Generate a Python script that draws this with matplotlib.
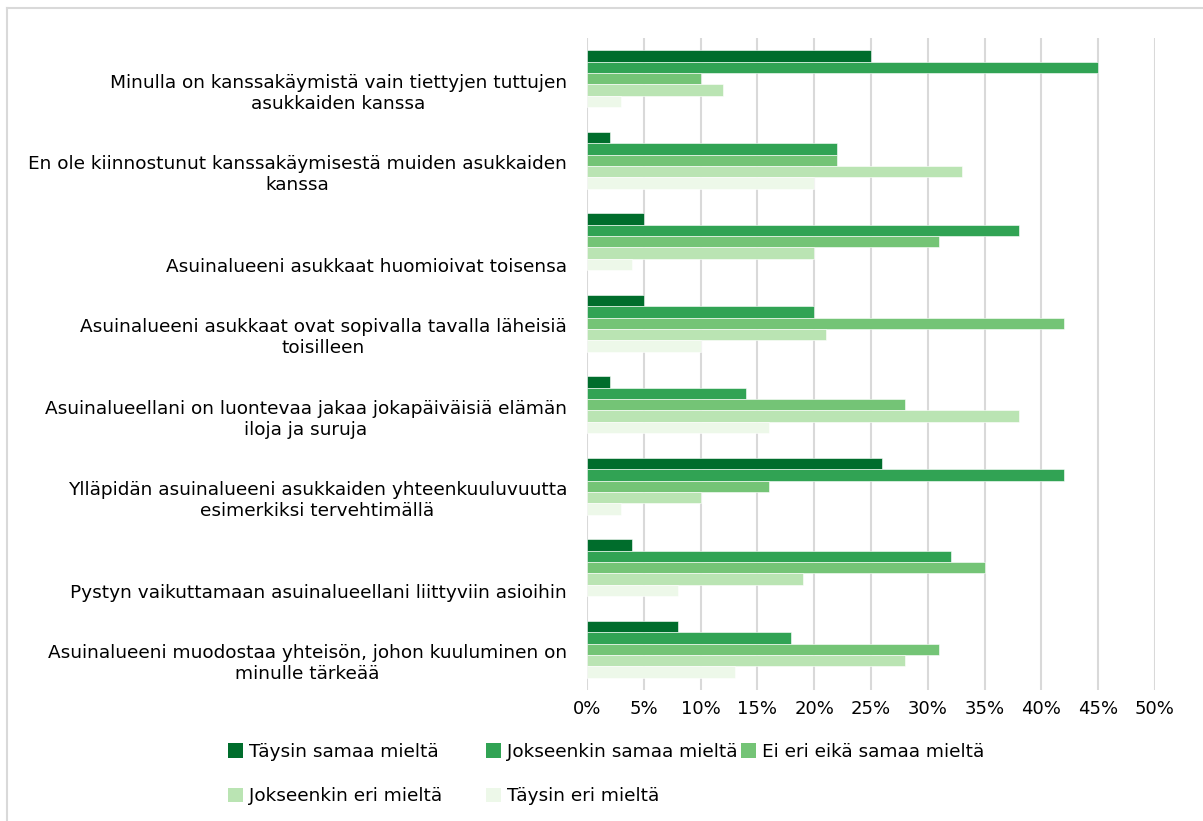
import matplotlib
matplotlib.use("Agg")
import matplotlib.pyplot as plt
import numpy as np
from matplotlib.transforms import blended_transform_factory
from matplotlib.patches import Patch
from matplotlib.lines import Line2D

plt.rcParams['font.family'] = ['DejaVu Sans']

statements = [
    "Minulla on kanssakäymistä vain tiettyjen tuttujen\nasukkaiden kanssa",
    "En ole kiinnostunut kanssakäymisestä muiden asukkaiden\nkanssa",
    "Asuinalueeni asukkaat huomioivat toisensa",
    "Asuinalueeni asukkaat ovat sopivalla tavalla läheisiä\ntoisilleen",
    "Asuinalueellani on luontevaa jakaa jokapäiväisiä elämän\niloja ja suruja",
    "Ylläpidän asuinalueeni asukkaiden yhteenkuuluvuutta\nesimerkiksi tervehtimällä",
    "Pystyn vaikuttamaan asuinalueellani liittyviin asioihin",
    "Asuinalueeni muodostaa yhteisön, johon kuuluminen on\nminulle tärkeää",
]

series_names = ["Täysin samaa mieltä", "Jokseenkin samaa mieltä",
                "Ei eri eikä samaa mieltä", "Jokseenkin eri mieltä",
                "Täysin eri mieltä"]

taysin_samaa = [25, 2, 5, 5, 2, 26, 4, 8]
jokseenkin_samaa = [45, 22, 38, 20, 14, 42, 32, 18]
ei_eri_eika_samaa = [10, 22, 31, 42, 28, 16, 35, 31]
jokseenkin_eri = [12, 33, 20, 21, 38, 10, 19, 28]
taysin_eri = [3, 20, 4, 10, 16, 3, 8, 13]

colors = ["#006d2c", "#31a354", "#74c476", "#bae4b3", "#edf8e9"]

series = [taysin_samaa, jokseenkin_samaa, ei_eri_eika_samaa,
          jokseenkin_eri, taysin_eri]

fs = 13.3

fig = plt.figure(figsize=(12.03, 8.21), dpi=100)
ax = fig.add_axes([587/1203, 1-690/821, 568/1203, 652/821])

y = np.arange(len(statements))
h = 0.14
for i, vals in enumerate(series):
    ax.barh(y + (i-2)*h, vals, height=h, color=colors[i],
            edgecolor="white", linewidth=0.4, zorder=3,
            label=series_names[i])

ax.set_xlim(0, 50)
ax.set_ylim(len(statements)-0.5, -0.5)
ax.set_xticks(np.arange(0, 51, 5))
ax.set_xticklabels([f"{v}%" for v in range(0, 51, 5)], fontsize=13)
ax.set_yticks([])
ax.tick_params(axis='x', length=0, pad=7)
ax.grid(axis='x', color="#d9d9d9", linewidth=1.5, zorder=0)
for s in ax.spines.values():
    s.set_visible(False)

trans = blended_transform_factory(ax.transAxes, ax.transData)
for i, lab in enumerate(statements):
    ax.text(-20/568, i + 0.42, lab, transform=trans, ha='right', va='bottom',
            multialignment='center', fontsize=fs, linespacing=1.22)

# legend, placed column by column like the original
col_x = [228/1203, 486/1203, 741/1203]
cols = [[0, 3], [1, 4], [2]]
for cx, idx in zip(col_x, cols):
    handles = [Patch(facecolor=colors[k], edgecolor='none') for k in idx]
    labels = [series_names[k] for k in idx]
    fig.legend(handles, labels, loc='upper left', bbox_to_anchor=(cx, 1-743/821),
               frameon=False, fontsize=fs, handlelength=0.81, handleheight=0.81,
               handletextpad=0.3, labelspacing=1.42, borderaxespad=0,
               borderpad=0)

# outer chart border (left and top visible)
fig.add_artist(Line2D([7/1203, 7/1203], [0, 1-8/821], transform=fig.transFigure,
                      color="#d9d9d9", linewidth=1.5))
fig.add_artist(Line2D([7/1203, 1], [1-8/821, 1-8/821], transform=fig.transFigure,
                      color="#d9d9d9", linewidth=1.5))

fig.savefig("out.png", dpi=100)
